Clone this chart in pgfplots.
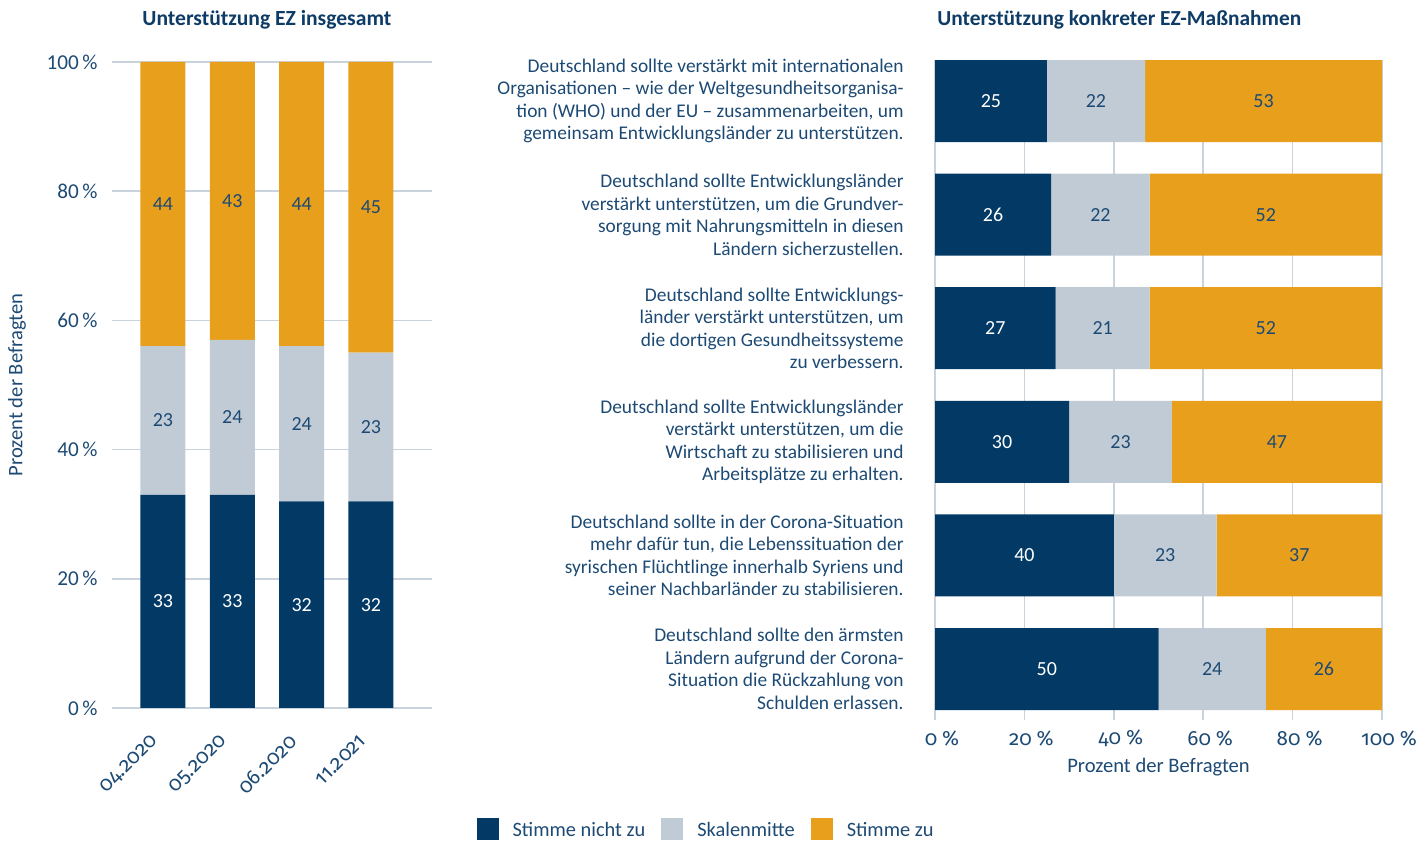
\documentclass[border=0pt]{standalone}
\usepackage{pgfplots}
\pgfplotsset{compat=1.18}
\usepackage{fontspec}
\setmainfont{Carlito}
\newfontfamily\osf{Fira Sans}[Numbers=OldStyle]
\definecolor{navy}{HTML}{023A65}
\definecolor{grayb}{HTML}{C1CBD5}
\definecolor{orangeb}{HTML}{E89F1B}
\definecolor{txt}{HTML}{1D4A74}
\definecolor{ttl}{HTML}{0E3C66}
\definecolor{gridc}{HTML}{C9D3DD}
\newcommand\lab{\fontsize{9.7}{11.25}\selectfont}
\newcommand\num{\fontsize{10}{11}\selectfont}
\pgfplotsset{
  every axis title shift=0pt,
  leftax/.style={at={(56pt,68.5pt)}, anchor=south west, scale only axis,
    width=160pt, height=323pt, xmin=-0.735, xmax=3.88, ymin=0, ymax=100},
  rightax/.style={at={(467.5pt,62.5pt)}, anchor=south west, scale only axis,
    width=223.5pt, height=330pt, xmin=0, xmax=100, ymin=-0.361, ymax=5.449, y dir=reverse},
  lbl/.style={draw=none, mark=none,
    nodes near coords, point meta=explicit symbolic,
    every node near coord/.append style={anchor=center, font=\num, text=#1, inner sep=0pt}},
}
\begin{document}
\begin{tikzpicture}
\useasboundingbox (0,0) rectangle (713.5pt,422.5pt);
% ---------------- left chart
\begin{axis}[leftax, ybar stacked, bar width=22.5pt,
  axis line style={draw=none}, major tick length=0pt,
  ymajorgrids, grid style={gridc, line width=0.75pt},
  xtick={0,1,2,3}, xticklabels={04.2020,05.2020,06.2020,11.2021},
  xticklabel style={font=\osf\fontsize{10.3}{11}\selectfont, text=txt, inner sep=0pt, xshift=-4pt, yshift=-15pt, rotate=45, anchor=east},
  ytick={0,20,...,100}, yticklabels={0\,\%,20\,\%,40\,\%,60\,\%,80\,\%,100\,\%},
  yticklabel style={font=\fontsize{10.6}{11}\selectfont, text=txt, inner sep=0pt, xshift=-7pt},
  ylabel={Prozent der Befragten},
  ylabel style={at={(axis description cs:-0.297,0.5)}, anchor=center, font=\fontsize{10.3}{11}\selectfont, text=txt},
  title={Unterstützung EZ insgesamt},
  title style={at={(axis description cs:0.484,1.065)}, anchor=center, inner sep=0pt, font=\bfseries\fontsize{10.8}{12}\selectfont, text=ttl},
]
\addplot[fill=navy, draw=none] coordinates {(0,33) (1,33) (2,32) (3,32)};
\addplot[fill=grayb, draw=none] coordinates {(0,23) (1,24) (2,24) (3,23)};
\addplot[fill=orangeb, draw=none] coordinates {(0,44) (1,43) (2,44) (3,45)};
\end{axis}
\begin{axis}[leftax, hide axis]
\addplot[lbl=white] coordinates {(0,16.5) [33] (1,16.5) [33] (2,16) [32] (3,16) [32]};
\addplot[lbl=txt] coordinates {(0,44.5) [23] (1,45) [24] (2,44) [24] (3,43.5) [23]};
\addplot[lbl=txt] coordinates {(0,78) [44] (1,78.5) [43] (2,78) [44] (3,77.5) [45]};
\end{axis}
% ---------------- right chart
\begin{axis}[rightax, xbar stacked, bar width=41pt,
  axis line style={draw=none}, major tick length=0pt,
  xmajorgrids, grid style={gridc, line width=0.75pt},
  xtick={0,20,...,100},
  xticklabels={0\hspace{2.5pt}\%,20\hspace{2.5pt}\%,40\hspace{2.5pt}\%,60\hspace{2.5pt}\%,80\hspace{2.5pt}\%,100\hspace{2.5pt}\%},
  xticklabel style={font=\osf\fontsize{10.3}{11}\selectfont, text=txt, inner sep=0pt, anchor=center, yshift=-9pt, xshift=3.5pt},
  xlabel={Prozent der Befragten},
  xlabel style={at={(axis description cs:0.5,-0.0712)}, anchor=center, font=\fontsize{10.3}{11}\selectfont, text=txt},
  ytick={0,...,5},
  yticklabels={
    {Deutschland sollte verstärkt mit internationalen\\Organisationen – wie der Weltgesundheitsorganisa-\\tion (WHO) und der EU – zusammenarbeiten, um\\gemeinsam Entwicklungsländer zu unterstützen.},
    {Deutschland sollte Entwicklungsländer\\verstärkt unterstützen, um die Grundver-\\sorgung mit Nahrungsmitteln in diesen\\Ländern sicherzustellen.},
    {Deutschland sollte Entwicklungs-\\länder verstärkt unterstützen, um\\die dortigen Gesundheitssysteme\\zu verbessern.},
    {Deutschland sollte Entwicklungsländer\\verstärkt unterstützen, um die\\Wirtschaft zu stabilisieren und\\Arbeitsplätze zu erhalten.},
    {Deutschland sollte in der Corona-Situation\\mehr dafür tun, die Lebenssituation der\\syrischen Flüchtlinge innerhalb Syriens und\\seiner Nachbarländer zu stabilisieren.},
    {Deutschland sollte den ärmsten\\Ländern aufgrund der Corona-\\Situation die Rückzahlung von\\Schulden erlassen.}},
  yticklabel style={font=\lab, text=txt, align=right, inner sep=0pt, anchor=east, xshift=-15.5pt},
  title={Unterstützung konkreter EZ-Maßnahmen},
  title style={at={(axis description cs:0.0045,1.0606)}, anchor=west, inner sep=0pt, font=\bfseries\fontsize{10.7}{12}\selectfont, text=ttl},
  legend columns=3,
  legend style={draw=none, fill=none, at={(-0.510,-0.168)}, anchor=center, font=\fontsize{10.2}{12}\selectfont, text=txt,
    /tikz/every odd column/.append style={column sep=5pt},
    /tikz/every even column/.append style={column sep=6pt}},
  legend image code/.code={\path[#1, draw=none] (0pt,-4.5pt) rectangle (11pt,6.5pt);},
]
\addplot[fill=navy, draw=none] coordinates {(25,0) (26,1) (27,2) (30,3) (40,4) (50,5)};
\addlegendentry{Stimme nicht zu}
\addplot[fill=grayb, draw=none] coordinates {(22,0) (22,1) (21,2) (23,3) (23,4) (24,5)};
\addlegendentry{Skalenmitte}
\addplot[fill=orangeb, draw=none] coordinates {(53,0) (52,1) (52,2) (47,3) (37,4) (26,5)};
\addlegendentry{Stimme zu}
\end{axis}
\begin{axis}[rightax, hide axis]
\addplot[lbl=white] coordinates {(12.5,0) [25] (13,1) [26] (13.5,2) [27] (15,3) [30] (20,4) [40] (25,5) [50]};
\addplot[lbl=txt] coordinates {(36,0) [22] (37,1) [22] (37.5,2) [21] (41.5,3) [23] (51.5,4) [23] (62,5) [24]};
\addplot[lbl=txt] coordinates {(73.5,0) [53] (74,1) [52] (74,2) [52] (76.5,3) [47] (81.5,4) [37] (87,5) [26]};
\end{axis}
\end{tikzpicture}
\end{document}
